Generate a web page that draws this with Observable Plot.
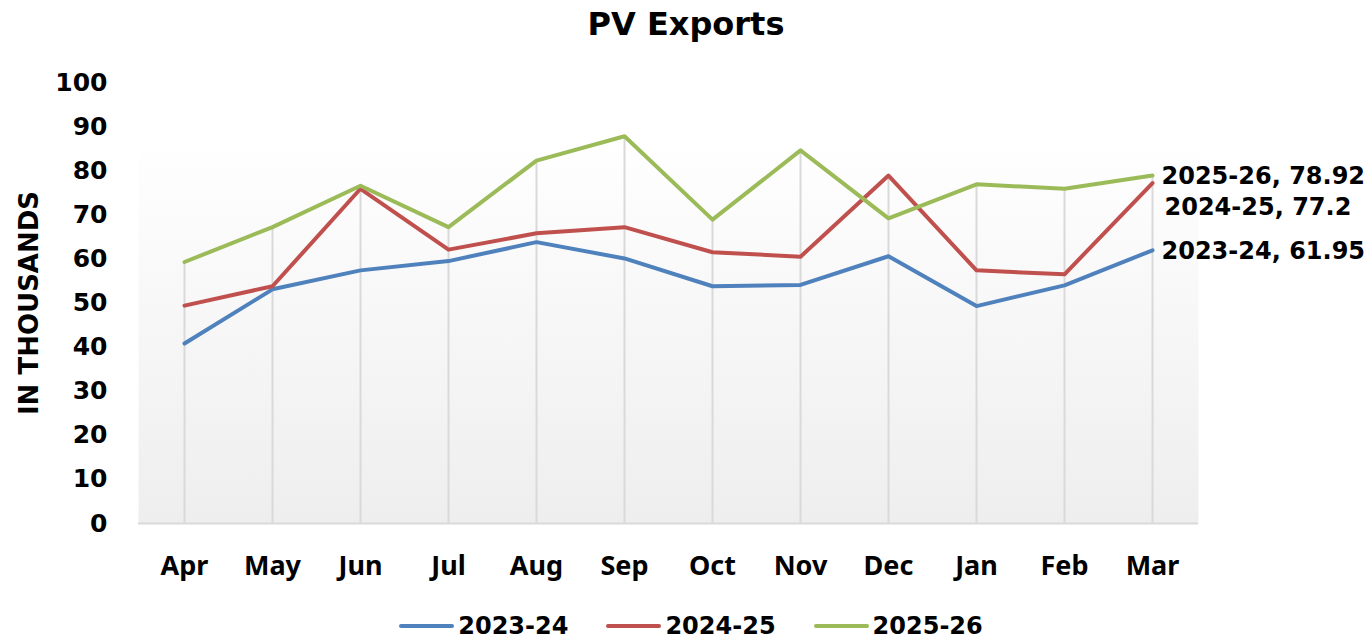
<!DOCTYPE html>
<html>
<head>
<meta charset="utf-8">
<script src="https://cdn.jsdelivr.net/npm/d3@7"></script>
<script src="https://cdn.jsdelivr.net/npm/@observablehq/plot@0.6"></script>
<style>
  body { margin: 0; background: #fff; width: 1372px; height: 642px; overflow: hidden; font-family: "DejaVu Sans", sans-serif; color: #000; }
  #title { height: 50px; line-height: 48px; text-align: center; font-weight: bold; font-size: 32px; }
  #chart { height: 548px; }
  #legend { height: 44px; display: flex; justify-content: center; align-items: flex-start; gap: 38px; padding-left: 10px; box-sizing: border-box; }
  .item { display: flex; align-items: center; margin-top: 14px; height: 28px; line-height: 28px; font-size: 24px; font-weight: bold; }
  .sw { width: 55px; height: 4px; border-radius: 2px; margin-right: 4px; }
</style>
</head>
<body>
<div id="title">PV Exports</div>
<div id="chart"></div>
<div id="legend"></div>
<script>
const months = ["Apr","May","Jun","Jul","Aug","Sep","Oct","Nov","Dec","Jan","Feb","Mar"];
const seriesNames = ["2023-24","2024-25","2025-26"];
const fy2324 = [40.8, 53.1, 57.4, 59.5, 63.8, 60.1, 53.8, 54.1, 60.6, 49.3, 54.0, 61.95];
const fy2425 = [49.4, 53.8, 75.9, 62.1, 65.8, 67.2, 61.5, 60.5, 78.9, 57.4, 56.5, 77.2];
const fy2526 = [59.3, 67.2, 76.6, 67.2, 82.3, 87.8, 68.9, 84.6, 69.2, 76.9, 75.9, 78.92];
const colors = ["#4f81bd", "#c0504d", "#9bbb59"];
const yTicks = [0, 10, 20, 30, 40, 50, 60, 70, 80, 90, 100];
const yTitle = "IN THOUSANDS";

const seriesValues = [fy2324, fy2425, fy2526];
const rows = [];
seriesNames.forEach((s, si) => months.forEach((m, i) => rows.push({series: s, month: m, value: seriesValues[si][i]})));
const drops = months.map((m, i) => ({month: m, top: Math.max(...seriesValues.map(v => v[i]))}));
const last = seriesNames.map((s, si) => ({series: s, month: months[months.length - 1], value: seriesValues[si][months.length - 1]}));

function gradientDefs() {
  const ns = "http://www.w3.org/2000/svg";
  const defs = document.createElementNS(ns, "defs");
  defs.innerHTML = '<linearGradient id="bg" x1="0" y1="0" x2="0" y2="1"><stop offset="0" stop-color="#ffffff"/><stop offset="0.12" stop-color="#ffffff"/><stop offset="1" stop-color="#eeeeee"/></linearGradient>';
  return defs;
}

const labelOpts = {x: "month", y: "value", text: d => `${d.series}, ${d.value}`, textAnchor: "start", fontSize: 24, fontWeight: "bold", fontFamily: "DejaVu Sans", fill: "#000"};

const chart = Plot.plot({
  width: 1372, height: 548,
  marginTop: 32, marginBottom: 75, marginLeft: 138, marginRight: 174,
  style: {background: "transparent", overflow: "visible"},
  x: {type: "point", domain: months, padding: 0.5, label: null},
  y: {domain: [0, 100], label: null},
  color: {domain: seriesNames, range: colors},
  marks: [
    gradientDefs,
    Plot.frame({fill: "url(#bg)", stroke: null}),
    Plot.ruleX(drops, {x: "month", y1: 0, y2: "top", stroke: "#d9d9d9", strokeWidth: 2}),
    Plot.ruleY([0], {stroke: "#d9d9d9", strokeWidth: 2}),
    Plot.axisY({ticks: yTicks, tickSize: 0, tickPadding: 31, fontSize: 25, fontWeight: "bold", fontFamily: "DejaVu Sans", fill: "#000", label: null}),
    Plot.axisX({tickSize: 0, tickPadding: 32, fontSize: 27, fontWeight: "bold", fontFamily: "Noto Sans", fill: "#000", label: null}),
    Plot.line(rows, {x: "month", y: "value", stroke: "series", z: "series", strokeWidth: 4, strokeLinejoin: "round", strokeLinecap: "round"}),
    Plot.text(last.filter(d => d.series !== "2024-25"), {...labelOpts, dx: 9, dy: 1}),
    Plot.text(last.filter(d => d.series === "2024-25"), {...labelOpts, dx: 12, dy: 24}),
    Plot.text([yTitle], {frameAnchor: "left", dx: -109, rotate: -90, fontSize: 26, fontWeight: "bold", fontFamily: "DejaVu Sans", fill: "#000", textAnchor: "middle"})
  ]
});
document.getElementById("chart").appendChild(chart);

const legend = document.getElementById("legend");
seriesNames.forEach((s, i) => {
  const item = document.createElement("div");
  item.className = "item";
  const sw = document.createElement("div");
  sw.className = "sw";
  sw.style.background = colors[i];
  item.appendChild(sw);
  item.appendChild(document.createTextNode(s));
  legend.appendChild(item);
});
</script>
</body>
</html>
